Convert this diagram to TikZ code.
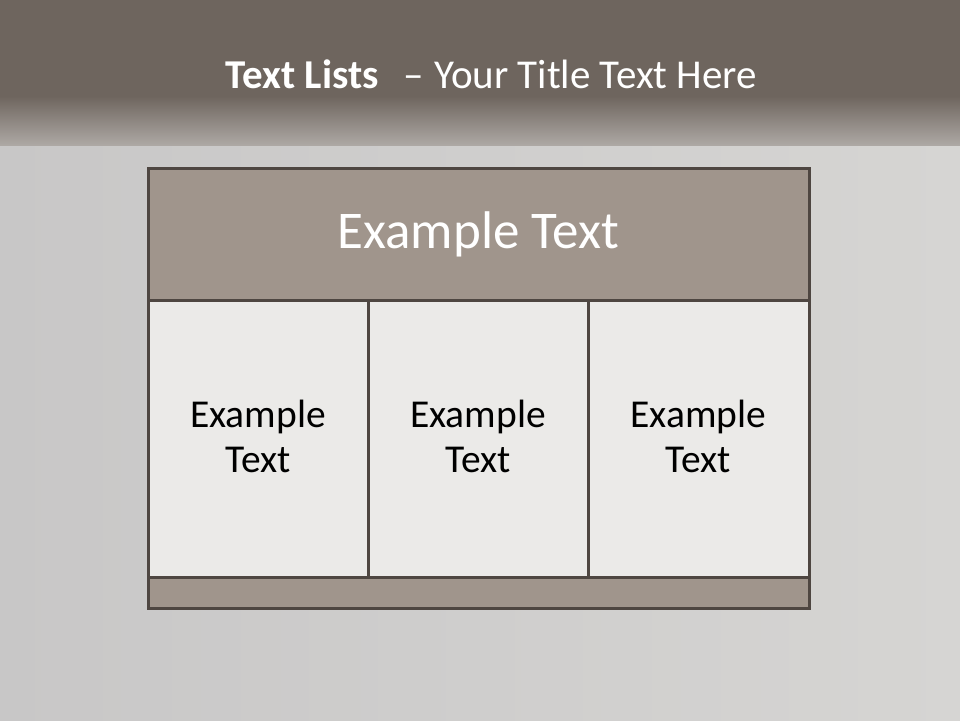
\documentclass[tikz,border=0pt]{standalone}
\usepackage{fontspec}
\setmainfont{Carlito}
\definecolor{bandtop}{HTML}{6E655E}
\definecolor{bandlow}{HTML}{ADA8A4}
\definecolor{bgleft}{HTML}{C8C7C7}
\definecolor{bgright}{HTML}{D6D5D3}
\definecolor{frame}{HTML}{4E4641}
\definecolor{taupe}{HTML}{A0958C}
\definecolor{cell}{HTML}{EBEAE8}
\tikzset{
  box/.style={draw=frame, line width=3pt, inner sep=0pt, outer sep=0pt},
  hdrbox/.style={box, fill=taupe},
  cellbox/.style={box, fill=cell},
  celltext/.style={align=center, text=black, font=\fontsize{39.5}{45}\selectfont, inner sep=0pt},
}
\begin{document}
\begin{tikzpicture}[x=1pt,y=-1pt]
\useasboundingbox (0,0) rectangle (960,720);
% background
\shade[left color=bgleft, right color=bgright] (0,0) rectangle (960,720);
% title band
\fill[bandtop] (0,0) rectangle (960,96);
\shade[top color=bandtop, bottom color=bandlow] (0,96) rectangle (960,145);
\node[anchor=base, text=white, font=\fontsize{41}{48}\selectfont, inner sep=0pt] (title) at (491.5,88) {\textbf{Text Lists}\hspace{25pt}–\hspace{10pt}Your Title Text Here};
% table
\node[hdrbox, minimum width=661pt, minimum height=132pt] (head) at (478.5,234) {};
\node[cellbox, minimum width=220pt, minimum height=277pt] (c1) at (258,438.5) {};
\node[cellbox, minimum width=220pt, minimum height=277pt] (c2) at (478,438.5) {};
\node[cellbox, minimum width=221pt, minimum height=277pt] (c3) at (698.5,438.5) {};
\node[hdrbox, minimum width=661pt, minimum height=31pt] (foot) at (478.5,592.5) {};
% header text
\node[anchor=base, text=white, font=\fontsize{53}{60}\selectfont, inner sep=0pt] (headtext) at (head.center |- 0,248) {Example Text};
% column texts
\node[celltext] (t1) at (c1.center |- 0,436) {Example\\Text};
\node[celltext] (t2) at (c2.center |- 0,436) {Example\\Text};
\node[celltext] (t3) at (c3.center |- 0,436) {Example\\Text};
\end{tikzpicture}
\end{document}
